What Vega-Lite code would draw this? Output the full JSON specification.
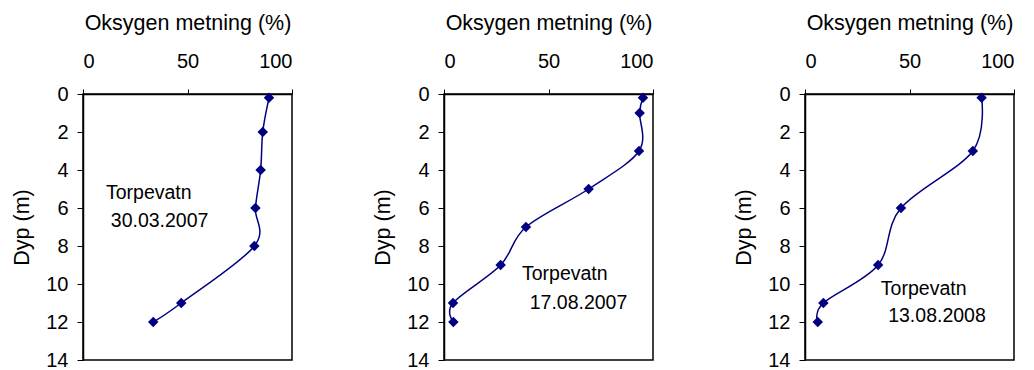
{
  "$schema": "https://vega.github.io/schema/vega-lite/v6.json",
  "background": "white",
  "padding": {"left": 11, "top": 11, "right": 0, "bottom": 0},
  "bounds": "flush",
  "spacing": 152,
  "datasets": {
    "profiles": [
      {"panel": 1, "depth": 0.2, "oxygen": 89},
      {"panel": 1, "depth": 2, "oxygen": 86},
      {"panel": 1, "depth": 4, "oxygen": 85},
      {"panel": 1, "depth": 6, "oxygen": 82.5},
      {"panel": 1, "depth": 8, "oxygen": 82},
      {"panel": 1, "depth": 11, "oxygen": 47},
      {"panel": 1, "depth": 12, "oxygen": 33.6},
      {"panel": 2, "depth": 0.2, "oxygen": 95.2},
      {"panel": 2, "depth": 1, "oxygen": 93.6},
      {"panel": 2, "depth": 3, "oxygen": 93.3},
      {"panel": 2, "depth": 5, "oxygen": 69.2},
      {"panel": 2, "depth": 7, "oxygen": 39.2},
      {"panel": 2, "depth": 9, "oxygen": 27.1},
      {"panel": 2, "depth": 11, "oxygen": 4.3},
      {"panel": 2, "depth": 12, "oxygen": 4.5},
      {"panel": 3, "depth": 0.2, "oxygen": 84.5},
      {"panel": 3, "depth": 3, "oxygen": 80.3},
      {"panel": 3, "depth": 6, "oxygen": 45.9},
      {"panel": 3, "depth": 9, "oxygen": 35},
      {"panel": 3, "depth": 11, "oxygen": 8.8},
      {"panel": 3, "depth": 12, "oxygen": 6.1}
    ],
    "notes": [
      {"panel": 1, "oxygen": 11, "depth": 5.55, "label": "Torpevatn"},
      {"panel": 1, "oxygen": 13.3, "depth": 7.0, "label": "30.03.2007"},
      {"panel": 2, "oxygen": 37.3, "depth": 9.8, "label": "Torpevatn"},
      {"panel": 2, "oxygen": 41, "depth": 11.3, "label": "17.08.2007"},
      {"panel": 3, "oxygen": 36.3, "depth": 10.57, "label": "Torpevatn"},
      {"panel": 3, "oxygen": 39.8, "depth": 12.0, "label": "13.08.2008"}
    ]
  },
  "config": {
    "font": "Liberation Sans",
    "view": {"stroke": "black", "strokeWidth": 1.5},
    "axis": {
      "grid": false,
      "domainColor": "black",
      "domainWidth": 1.5,
      "tickColor": "black",
      "tickWidth": 1,
      "labelColor": "black",
      "titleColor": "black",
      "labelFont": "Liberation Sans",
      "titleFont": "Liberation Sans",
      "labelFontSize": 20,
      "titleFontSize": 21.5,
      "titleFontWeight": "normal",
      "labelOverlap": false
    },
    "axisX": {"orient": "top", "tickSize": 5, "labelPadding": 18, "titlePadding": 17},
    "axisY": {"tickSize": 6, "labelPadding": 9, "titlePadding": 12}
  },
  "hconcat": [
    {
      "width": 209, "height": 266,
      "data": {"name": "profiles"},
      "transform": [{"filter": "datum.panel === 1"}],
      "encoding": {
        "x": {"field": "oxygen", "type": "quantitative", "scale": {"domain": [0, 100]}, "axis": {"values": [0, 50, 100], "title": "Oksygen metning (%)"}},
        "y": {"field": "depth", "type": "quantitative", "scale": {"domain": [0, 14], "reverse": true}, "axis": {"values": [0, 2, 4, 6, 8, 10, 12, 14], "tickCount": 8, "title": "Dyp (m)", "labelOverlap": false}}
      },
      "layer": [
        {
          "mark": {"type": "line", "color": "#000080", "strokeWidth": 1.5, "interpolate": "cardinal"},
          "encoding": {"order": {"field": "depth"}}
        },
        {
          "mark": {"type": "point", "shape": "diamond", "filled": true, "color": "#000080", "size": 110, "opacity": 1}
        },
        {
          "data": {"name": "notes"},
          "transform": [{"filter": "datum.panel === 1"}],
          "mark": {"type": "text", "align": "left", "baseline": "alphabetic", "fontSize": 19.5, "color": "black"},
          "encoding": {"text": {"field": "label"}}
        }
      ]
    },
    {
      "width": 209, "height": 266,
      "data": {"name": "profiles"},
      "transform": [{"filter": "datum.panel === 2"}],
      "encoding": {
        "x": {"field": "oxygen", "type": "quantitative", "scale": {"domain": [0, 100]}, "axis": {"values": [0, 50, 100], "title": "Oksygen metning (%)"}},
        "y": {"field": "depth", "type": "quantitative", "scale": {"domain": [0, 14], "reverse": true}, "axis": {"values": [0, 2, 4, 6, 8, 10, 12, 14], "tickCount": 8, "title": "Dyp (m)", "labelOverlap": false}}
      },
      "layer": [
        {
          "mark": {"type": "line", "color": "#000080", "strokeWidth": 1.5, "interpolate": "cardinal"},
          "encoding": {"order": {"field": "depth"}}
        },
        {
          "mark": {"type": "point", "shape": "diamond", "filled": true, "color": "#000080", "size": 110, "opacity": 1}
        },
        {
          "data": {"name": "notes"},
          "transform": [{"filter": "datum.panel === 2"}],
          "mark": {"type": "text", "align": "left", "baseline": "alphabetic", "fontSize": 19.5, "color": "black"},
          "encoding": {"text": {"field": "label"}}
        }
      ]
    },
    {
      "width": 209, "height": 266,
      "data": {"name": "profiles"},
      "transform": [{"filter": "datum.panel === 3"}],
      "encoding": {
        "x": {"field": "oxygen", "type": "quantitative", "scale": {"domain": [0, 100]}, "axis": {"values": [0, 50, 100], "title": "Oksygen metning (%)"}},
        "y": {"field": "depth", "type": "quantitative", "scale": {"domain": [0, 14], "reverse": true}, "axis": {"values": [0, 2, 4, 6, 8, 10, 12, 14], "tickCount": 8, "title": "Dyp (m)", "labelOverlap": false}}
      },
      "layer": [
        {
          "mark": {"type": "line", "color": "#000080", "strokeWidth": 1.5, "interpolate": "cardinal"},
          "encoding": {"order": {"field": "depth"}}
        },
        {
          "mark": {"type": "point", "shape": "diamond", "filled": true, "color": "#000080", "size": 110, "opacity": 1}
        },
        {
          "data": {"name": "notes"},
          "transform": [{"filter": "datum.panel === 3"}],
          "mark": {"type": "text", "align": "left", "baseline": "alphabetic", "fontSize": 19.5, "color": "black"},
          "encoding": {"text": {"field": "label"}}
        }
      ]
    }
  ]
}
